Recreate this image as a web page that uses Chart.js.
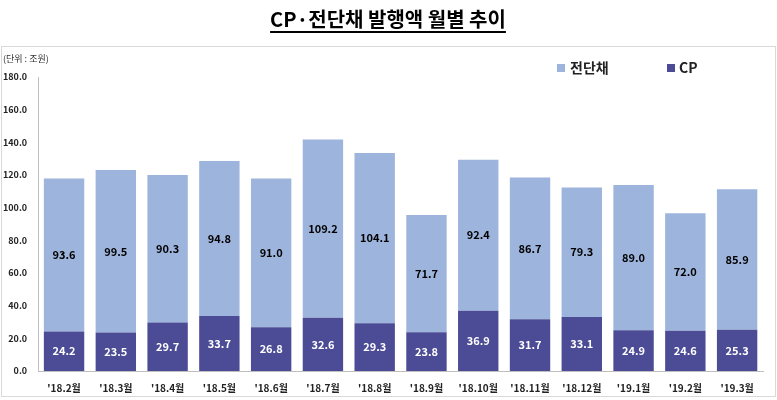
<!DOCTYPE html><html><head><meta charset="utf-8">
<script src="https://cdn.jsdelivr.net/npm/chart.js@4"></script>
<style>html,body{margin:0;padding:0;background:#fff}#w{width:777px;height:400px}</style></head>
<body><div id="w"><canvas id="c" width="777" height="400"></canvas></div>
<script>
const categories=["'18.2월","'18.3월","'18.4월","'18.5월","'18.6월","'18.7월","'18.8월","'18.9월","'18.10월","'18.11월","'18.12월","'19.1월","'19.2월","'19.3월"];
const cpValues=[24.2,23.5,29.7,33.7,26.8,32.6,29.3,23.8,36.9,31.7,33.1,24.9,24.6,25.3];
const jdcValues=[93.6,99.5,90.3,94.8,91.0,109.2,104.1,71.7,92.4,86.7,79.3,89.0,72.0,85.9];
const yTicks=[0,20,40,60,80,100,120,140,160,180];
const F='"Noto Sans CJK KR","Liberation Sans",sans-serif';
const deco={id:'deco',afterDraw(ch){const x=ch.ctx;x.save();
x.strokeStyle='#d9d9d9';x.lineWidth=1;x.strokeRect(1.5,46.5,774,350);
x.fillStyle='#000';x.font='bold 20px '+F;x.textAlign='center';x.textBaseline='alphabetic';
const t='CP·전단채 발행액 월별 추이';x.fillText(t,388,27);const w=x.measureText(t).width;
x.fillRect(388-w/2,31,w,2);
x.font='9px '+F;x.textAlign='left';x.fillStyle='#333';x.fillText('(단위 : 조원)',3,62);
x.font='bold 14px '+F;x.textBaseline='middle';
x.fillStyle='#9db4dc';x.fillRect(557,64,8,8);x.fillStyle='#222';x.fillText('전단채',570,68);
x.fillStyle='#4b4b96';x.fillRect(667,64,8,8);x.fillStyle='#222';x.fillText('CP',679,68);
x.font='bold 11px '+F;x.textAlign='center';
ch.data.datasets.forEach((d,i)=>{const m=ch.getDatasetMeta(i);m.data.forEach((b,j)=>{
x.fillStyle=i==0?'#fff':'#000';x.fillText(d.data[j].toFixed(1),b.x,(b.y+b.base)/2);});});
x.restore();}};
new Chart(document.getElementById('c'),{type:'bar',
data:{labels:categories,datasets:[
{label:'CP',data:cpValues,backgroundColor:'#4b4b96',categoryPercentage:0.78,barPercentage:1},
{label:'전단채',data:jdcValues,backgroundColor:'#9db4dc',categoryPercentage:0.78,barPercentage:1}]},
options:{responsive:false,animation:false,layout:{padding:{top:77,right:14,left:0,bottom:3}},
plugins:{legend:{display:false},tooltip:{enabled:false}},
scales:{x:{stacked:true,grid:{display:false},border:{color:'#bfbfbf'},ticks:{color:'#222',font:{family:F,size:10,weight:'bold'},maxRotation:0,autoSkip:false}},
y:{stacked:true,min:0,max:180,afterBuildTicks(a){a.ticks=yTicks.map(v=>({value:v}));},grid:{display:false},border:{color:'#bfbfbf'},
ticks:{color:'#222',font:{family:F,size:9,weight:'bold'},callback:v=>v.toFixed(1)}}}},
plugins:[deco]});
</script></body></html>
